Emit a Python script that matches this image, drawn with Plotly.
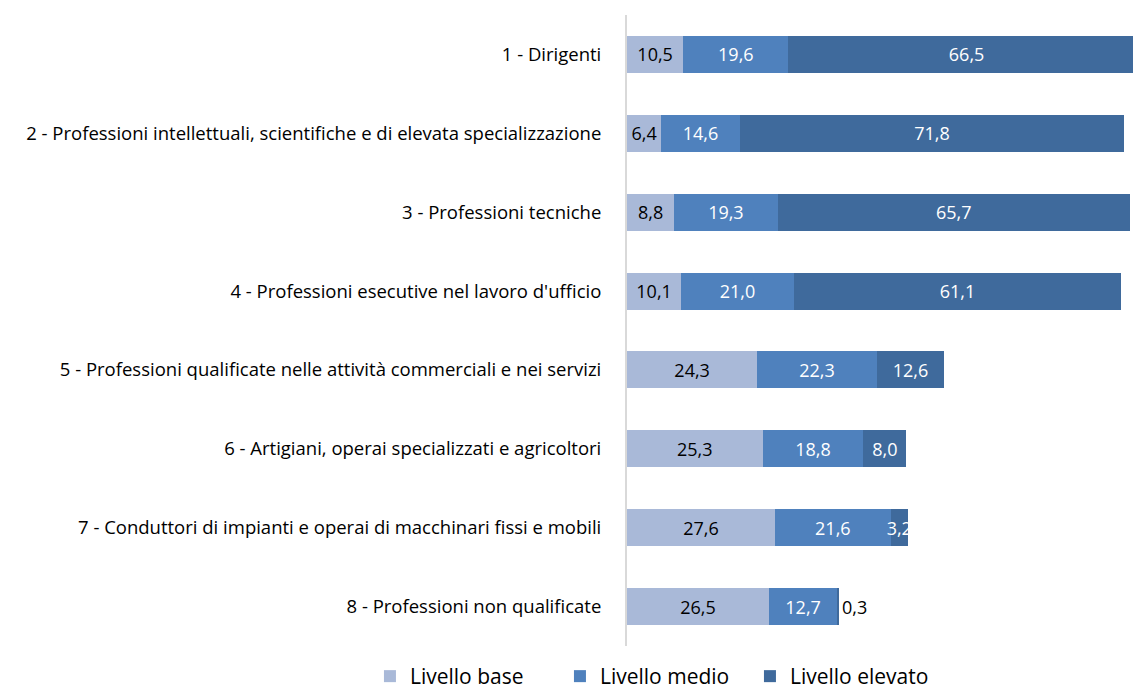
import plotly.graph_objects as go

categories = [
    "1 - Dirigenti",
    "2 - Professioni intellettuali, scientifiche e di elevata specializzazione",
    "3 - Professioni tecniche",
    "4 - Professioni esecutive nel lavoro d'ufficio",
    "5 - Professioni qualificate nelle attività commerciali e nei servizi",
    "6 - Artigiani, operai specializzati e agricoltori",
    "7 - Conduttori di impianti e operai di macchinari fissi e mobili",
    "8 - Professioni non qualificate",
]
livello_base = [10.5, 6.4, 8.8, 10.1, 24.3, 25.3, 27.6, 26.5]
livello_medio = [19.6, 14.6, 19.3, 21.0, 22.3, 18.8, 21.6, 12.7]
livello_elevato = [66.5, 71.8, 65.7, 61.1, 12.6, 8.0, 3.2, 0.3]

series = [
    ("Livello base", livello_base, "#A9B9D8", "#000000"),
    ("Livello medio", livello_medio, "#4F81BD", "#FFFFFF"),
    ("Livello elevato", livello_elevato, "#3F6A9C", "#FFFFFF"),
]

FONT = "Open Sans"

def fmt(v):
    return f"{v:.1f}".replace(".", ",")

fig = go.Figure()
for name, vals, color, tcol in series:
    positions = ["inside" if v >= 1 else "outside" for v in vals]
    fig.add_trace(go.Bar(
        name=name,
        y=categories,
        x=vals,
        orientation="h",
        marker=dict(color=color, line=dict(width=0)),
        text=[fmt(v) for v in vals],
        textposition=positions,
        textangle=0,
        insidetextanchor="middle",
        constraintext="none",
        insidetextfont=dict(color=tcol, size=18, family=FONT),
        outsidetextfont=dict(color="#000000", size=18, family=FONT),
        cliponaxis=True,
        hoverinfo="x+name",
    ))

fig.update_layout(
    barmode="stack",
    bargap=0.53,
    width=1133,
    height=691,
    margin=dict(l=627, r=0, t=15, b=45),
    paper_bgcolor="white",
    plot_bgcolor="white",
    font=dict(family=FONT, size=18, color="#000000"),
    xaxis=dict(
        range=[0, 94.4],
        showgrid=False,
        zeroline=False,
        showticklabels=False,
        showline=False,
        fixedrange=True,
    ),
    yaxis=dict(
        autorange="reversed",
        showline=True,
        linecolor="#D9D9D9",
        linewidth=2,
        ticks="",
        showgrid=False,
        tickfont=dict(family=FONT, size=18.5, color="#000000"),
        ticklabelstandoff=20,
        automargin=False,
    ),
    legend=dict(
        orientation="h",
        xref="paper",
        yref="container",
        x=-0.508,
        y=0.021,
        xanchor="left",
        yanchor="middle",
        font=dict(family=FONT, size=21, color="#000000"),
        entrywidth=145,
        entrywidthmode="pixels",
        traceorder="normal",
    ),
    showlegend=True,
)

fig.write_html(
    "out.html",
    config={"displayModeBar": False},
    post_script="document.body.style.margin='0';document.body.style.overflow='hidden';",
)
